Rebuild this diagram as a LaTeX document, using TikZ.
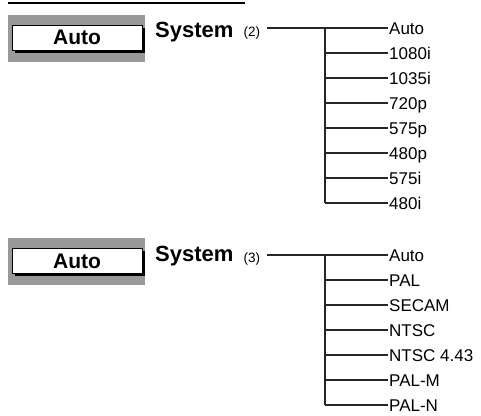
\documentclass[tikz,border=0pt]{standalone}
\usepackage{fontspec}
\setmainfont{Liberation Sans}
\usetikzlibrary{positioning, shadows}
\definecolor{panelgray}{gray}{0.6}
\tikzstyle{panel}   = [rectangle, fill=panelgray, minimum width=137pt, minimum height=47pt, inner sep=0pt]
\tikzstyle{autobox} = [rectangle, draw=black, line width=0.6pt, fill=white, minimum width=130pt,
                       minimum height=25pt, inner sep=0pt, font=\fontsize{21}{21}\selectfont\bfseries,
                       drop shadow={shadow xshift=2.5pt, shadow yshift=-2.5pt, fill=black, opacity=1}]
\tikzstyle{heading} = [anchor=base west, inner sep=0pt, font=\fontsize{22}{22}\selectfont\bfseries]
\tikzstyle{number}  = [anchor=base west, inner sep=0pt, font=\fontsize{13.5}{13.5}\selectfont]
\tikzstyle{item}    = [anchor=base west, inner sep=1pt, font=\fontsize{17}{17}\selectfont]
\tikzstyle{branch}  = [line width=1.1pt, black!85]

\begin{document}
\begin{tikzpicture}[x=1pt, y=-1pt]
    \useasboundingbox (0,0) rectangle (481,415);
    \draw[line width=2.2pt] (8,3) -- (245,3);

    % upper panel
    \node (panel2) [panel] at (76.5,38.5) {};
    \node (auto2) [autobox] at (77,37.5) {Auto};
    \node (sys2) [heading] at (155,37) {System};
    \node (num2) [number] at (243.5,36) {(2)};
    \coordinate (start2) at (267,28);
    \coordinate (fork2) at (325,28);
    \coordinate (end2) at (325,203);
    \draw[branch] (start2) -- (fork2) -- (end2);
    \foreach \lbl [count=\i from 0] in {Auto,1080i,1035i,720p,575p,480p,575i,480i} {
        \coordinate (ja\i) at (325,28+25*\i);
        \node (a\i) [item] at (388,34+25*\i) {\lbl};
        \draw[branch] (ja\i) -- (a\i.west |- ja\i);
    }

    % lower panel
    \node (panel3) [panel] at (76.5,261.5) {};
    \node (auto3) [autobox] at (77,261) {Auto};
    \node (sys3) [heading] at (155,261) {System};
    \node (num3) [number] at (243.5,262) {(3)};
    \coordinate (start3) at (267,255);
    \coordinate (fork3) at (325,255);
    \coordinate (end3) at (325,405);
    \draw[branch] (start3) -- (fork3) -- (end3);
    \foreach \lbl [count=\i from 0] in {Auto,PAL,SECAM,NTSC,NTSC 4.43,PAL-M,PAL-N} {
        \coordinate (jb\i) at (325,255+25*\i);
        \node (b\i) [item] at (388,261+25*\i) {\lbl};
        \draw[branch] (jb\i) -- (b\i.west |- jb\i);
    }
\end{tikzpicture}
\end{document}
